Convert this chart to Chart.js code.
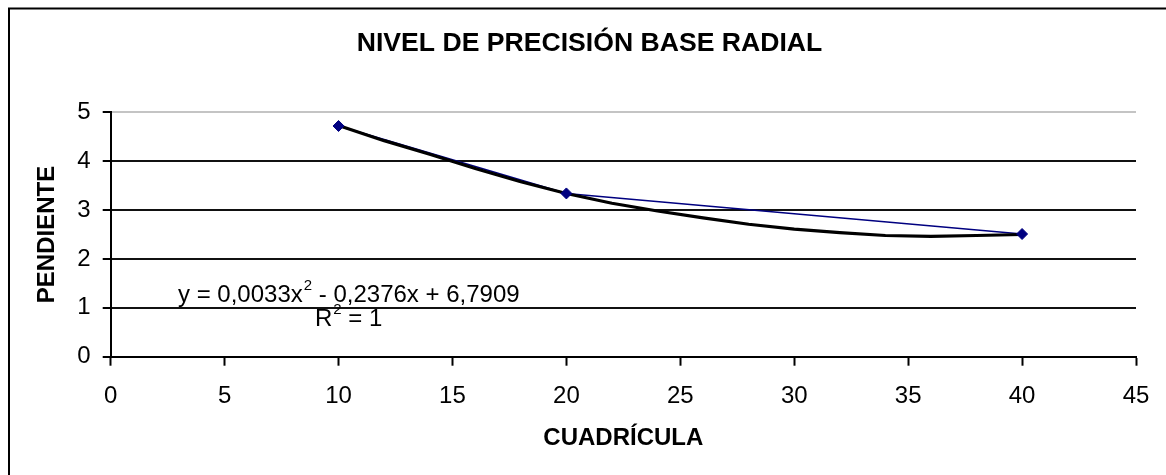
<!DOCTYPE html>
<html>
<head>
<meta charset="utf-8">
<title>Nivel de precisión base radial</title>
<script src="https://cdn.jsdelivr.net/npm/chart.js@4.4.1/dist/chart.umd.min.js"></script>
<style>
    html, body { margin: 0; padding: 0; background: #ffffff; }
    #chart { display: block; }
</style>
</head>
<body>
<canvas id="chart" width="1166" height="475"></canvas>
<script>
// measured points (CUADRÍCULA vs PENDIENTE)
const cuadricula = [10, 20, 40];
const pendiente = [4.72, 3.34, 2.51];

// polynomial trend line
const trendX = [10, 12, 14, 16, 18, 20, 22, 24, 26, 28, 30, 32, 34, 36, 38, 40];
const trendY = [4.73, 4.42, 4.14, 3.85, 3.58, 3.34, 3.14, 2.98, 2.84, 2.71, 2.61, 2.54, 2.48, 2.46, 2.48, 2.50];

const chartTitle = "NIVEL DE PRECISIÓN BASE RADIAL";
const eqLeft = "y = 0,0033x";
const eqSup = "2";
const eqRight = " - 0,2376x + 6,7909";
const r2Left = "R";
const r2Right = " = 1";

const FONT = "'Liberation Sans', Arial, sans-serif";

const toPoints = (xs, ys) => xs.map((x, i) => ({ x: x, y: ys[i] }));

// =========================================
// Excel-like frame, title and trend equation
// =========================================
const excelDecor = {
    id: "excelDecor",
    beforeDraw(chart) {
        const ctx = chart.ctx;
        ctx.save();
        ctx.fillStyle = "#ffffff";
        ctx.fillRect(0, 0, chart.width, chart.height);
        ctx.strokeStyle = "#000000";
        ctx.lineWidth = 2;
        ctx.strokeRect(9, 8.5, 1200, 520);
        ctx.restore();
    },
    afterDraw(chart) {
        const ctx = chart.ctx;
        ctx.save();
        ctx.fillStyle = "#000000";

        ctx.font = "bold 26.6px " + FONT;
        ctx.textAlign = "center";
        ctx.textBaseline = "middle";
        ctx.fillText(chartTitle, 589.5, 44);

        ctx.textAlign = "left";
        ctx.textBaseline = "alphabetic";
        const big = "24px " + FONT;
        const small = "15px " + FONT;

        let x = 178;
        ctx.font = big;
        ctx.fillText(eqLeft, x, 301.5);
        x += ctx.measureText(eqLeft).width;
        ctx.font = small;
        ctx.fillText(eqSup, x + 1, 290);
        x += ctx.measureText(eqSup).width + 1;
        ctx.font = big;
        ctx.fillText(eqRight, x, 301.5);

        x = 315;
        ctx.font = big;
        ctx.fillText(r2Left, x, 326);
        x += ctx.measureText(r2Left).width;
        ctx.font = small;
        ctx.fillText(eqSup, x + 1, 314);
        x += ctx.measureText(eqSup).width + 1;
        ctx.font = big;
        ctx.fillText(r2Right, x, 326);
        ctx.restore();
    },
};

new Chart(document.getElementById("chart"), {
    type: "scatter",
    data: {
        datasets: [
            {
                label: "puntos",
                data: toPoints(cuadricula, pendiente),
                showLine: false,
                pointStyle: "rectRot",
                pointRadius: 5.5,
                backgroundColor: "#000080",
                borderColor: "#000080",
                borderWidth: 1,
                order: 0,
            },
            {
                label: "Polinómica",
                data: toPoints(trendX, trendY),
                showLine: true,
                borderColor: "#000000",
                borderWidth: 3.2,
                borderJoinStyle: "round",
                borderCapStyle: "round",
                pointRadius: 0,
                tension: 0,
                order: 1,
            },
            {
                label: "serie",
                data: toPoints(cuadricula, pendiente),
                showLine: true,
                borderColor: "#000080",
                borderWidth: 1.5,
                pointRadius: 0,
                tension: 0,
                order: 2,
            },
        ],
    },
    options: {
        responsive: false,
        animation: false,
        events: [],
        layout: {
            padding: { left: 10, right: 30, top: 112.3, bottom: 8.3 },
        },
        plugins: {
            legend: { display: false },
            tooltip: { enabled: false },
            title: { display: false },
        },
        scales: {
            x: {
                type: "linear",
                min: 0,
                max: 45,
                afterFit: (scale) => { scale.height = 110; },
                ticks: {
                    stepSize: 5,
                    color: "#000000",
                    padding: 16,
                    font: { family: FONT, size: 24 },
                },
                grid: {
                    drawOnChartArea: false,
                    drawTicks: true,
                    tickLength: 9,
                    tickWidth: 2,
                    color: "#000000",
                },
                border: { color: "#000000", width: 2 },
                title: {
                    display: true,
                    text: "CUADRÍCULA",
                    color: "#000000",
                    font: { family: FONT, size: 24, weight: "bold" },
                    padding: { top: 0, bottom: 14.3 },
                },
            },
            y: {
                min: 0,
                max: 5,
                afterFit: (scale) => { scale.width = 100.7; },
                ticks: {
                    stepSize: 1,
                    color: "#000000",
                    padding: 12,
                    font: { family: FONT, size: 24 },
                },
                grid: {
                    color: (ctx) => (ctx.tick && ctx.tick.value === 5 ? "#c4c4c4" : "#111111"),
                    tickColor: "#000000",
                    lineWidth: 2,
                    tickLength: 8,
                    tickWidth: 2,
                },
                border: { color: "#000000", width: 2 },
                title: {
                    display: true,
                    text: "PENDIENTE",
                    color: "#000000",
                    font: { family: FONT, size: 24, weight: "bold" },
                    padding: { top: 23, bottom: 0 },
                },
            },
        },
    },
    plugins: [excelDecor],
});
</script>
</body>
</html>
